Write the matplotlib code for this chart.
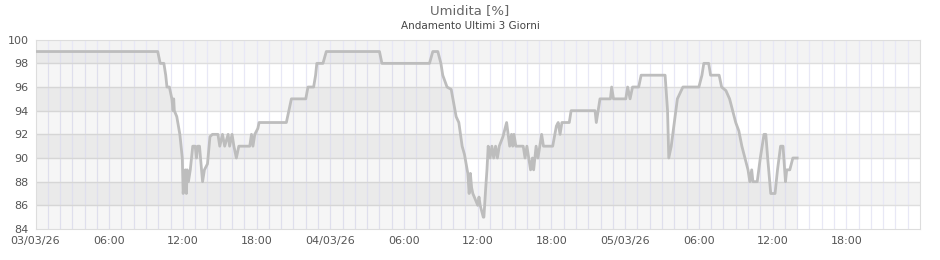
import numpy as np
import matplotlib
matplotlib.use("Agg")
from matplotlib import pyplot as plt

# hours since 03/03/26 00:00 and relative humidity [%]
hours = [0, 9.95, 10.15, 10.45, 10.6, 10.7, 10.9, 11.1, 11.2, 11.25, 11.3, 11.5, 11.75, 11.95,
         12.02, 12.1, 12.15, 12.2, 12.28, 12.35, 12.45, 12.6, 12.8, 13.0, 13.1, 13.2, 13.35,
         13.6, 13.75, 14.0, 14.2, 14.4, 14.85, 15.0, 15.22, 15.4, 15.68, 15.8, 16.0, 16.15,
         16.35, 16.55, 17.44, 17.58, 17.7, 17.85, 18.1, 18.2, 20.42, 20.83, 20.9, 22.0, 22.18,
         22.64, 22.8, 22.9, 23.4, 23.67, 28.0, 28.2, 32.07, 32.34, 32.75, 33.0, 33.15, 33.5,
         33.84, 34.24, 34.46, 34.73, 34.92, 35.19, 35.3, 35.4, 35.5, 35.6, 36.0, 36.1, 36.2,
         36.45, 36.5, 36.65, 36.75, 36.85, 37.0, 37.15, 37.3, 37.45, 37.6, 37.75, 38.05, 38.35,
         38.6, 38.75, 38.85, 38.95, 39.1, 39.7, 39.85, 40.0, 40.3, 40.45, 40.55, 40.75, 40.9,
         41.2, 41.35, 42.1, 42.4, 42.55, 42.7, 42.85, 43.45, 43.6, 45.55, 45.65, 45.95, 46.8,
         46.9, 47.05, 48.05, 48.2, 48.4, 48.6, 49.1, 49.3, 51.25, 51.45, 51.55, 51.75, 52.0,
         52.25, 52.7, 54.0, 54.25, 54.4, 54.8, 54.95, 55.65, 55.85, 56.2, 56.5, 56.75, 57.0,
         57.25, 57.5, 57.75, 58.0, 58.15, 58.3, 58.4, 58.75, 59.0, 59.3, 59.45, 59.6, 59.85,
         60.2, 60.4, 60.65, 60.85, 61.05, 61.15, 61.4, 61.65, 62.0]
umidita = [99, 99, 98, 98, 97, 96, 96, 95, 94, 95, 94, 93.5, 92, 90,
           87, 88, 87.5, 89, 87, 89, 88, 89, 91, 91, 90, 91, 91,
           88, 89, 89.5, 91.8, 92, 92, 91, 92, 91, 92, 91, 92, 91,
           90, 91, 91, 92, 91, 92, 92.5, 93, 93, 95, 95, 95, 96,
           96, 97, 98, 98, 99, 99, 98, 98, 99, 99, 98, 97, 96,
           95.8, 93.5, 93, 91, 90.3, 88.7, 87, 88.7, 87.5, 87, 86, 86.7, 86,
           85, 85, 87.5, 89, 91, 90, 91, 90, 91, 90, 91, 91.8, 93,
           91, 92, 91, 92, 91, 91, 90, 91, 89, 90, 89, 91, 90,
           92, 91, 91, 92.7, 93, 92, 93, 93, 94, 94, 93, 95, 95,
           96, 95, 95, 96, 95, 96, 96, 97, 97, 94, 90, 91, 93,
           95, 96, 96, 97, 98, 98, 97, 97, 96, 95.7, 95, 94, 93,
           92.3, 91, 90, 89, 88, 89, 88, 88, 90, 92, 92, 90, 87,
           87, 89, 91, 91, 88, 89, 89, 90, 90]

tick_hours = [0, 6, 12, 18, 24, 30, 36, 42, 48, 54, 60, 66]
tick_labels = ["03/03/26", "06:00", "12:00", "18:00", "04/03/26", "06:00", "12:00", "18:00",
               "05/03/26", "06:00", "12:00", "18:00"]
y_ticks = [84, 86, 88, 90, 92, 94, 96, 98, 100]

fig = plt.figure(figsize=(9.4, 2.6), dpi=100)
ax = fig.add_axes([35.5 / 940, 1 - 229 / 260, (920 - 35.5) / 940, (229 - 39.7) / 260])
ax.set_xlim(0, 72)
ax.set_ylim(84, 100)

# alternating bands
for i, lo in enumerate(y_ticks[:-1]):
    if i % 2 == 1:
        ax.axhspan(lo, lo + 2, color="#f3f3f3", lw=0, zorder=0)

# hourly vertical grid
for h in range(1, 72):
    ax.axvline(h, color="#e8e8f6", lw=0.9, zorder=1)
for y in y_ticks[1:-1]:
    ax.axhline(y, color="#dedede", lw=1.0, zorder=1.5)

ax.fill_between(hours, umidita, 84, color="black", alpha=0.035, lw=0, zorder=2)
ax.plot(hours, umidita, color="#bdbdbd", lw=2.0, zorder=3, solid_joinstyle="round")

ax.set_xticks(tick_hours)
ax.set_xticklabels(tick_labels)
ax.set_yticks(y_ticks)
ax.tick_params(length=0, labelsize=8, colors="#555555", pad=5)
for s in ax.spines.values():
    s.set_color("#dddddd")

fig.text(0.5, 1 - 11 / 260, "Umidita [%]", ha="center", va="center", fontsize=9.5, color="#666666")
fig.text(0.5, 1 - 26 / 260, "Andamento Ultimi 3 Giorni", ha="center", va="center", fontsize=7.5,
         color="#444444")

fig.savefig("out.png", dpi=100)
